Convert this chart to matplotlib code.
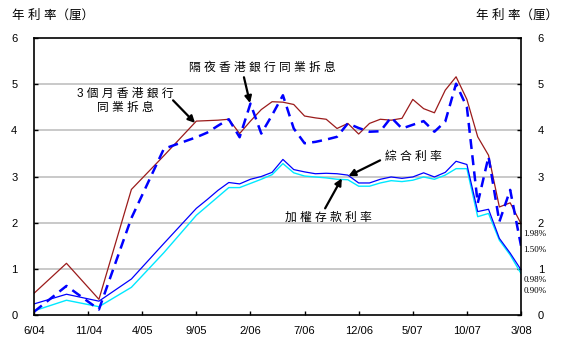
import matplotlib
matplotlib.use("Agg")
import matplotlib.pyplot as plt

plt.rcParams['font.family'] = ['Liberation Sans', 'Noto Sans CJK TC', 'DejaVu Sans']

# months since 6/04
months = [0, 3, 6, 9, 12, 15, 16, 17, 18, 19, 20, 21, 22, 23, 24, 25, 26, 27, 28, 29,
          30, 31, 32, 33, 34, 35, 36, 37, 38, 39, 40, 41, 42, 43, 44, 45]
tick_months = [0, 5, 10, 15, 20, 25, 30, 35, 40, 45]
tick_labels = ['6/04', '11/04', '4/05', '9/05', '2/06', '7/06', '12/06', '5/07', '10/07', '3/08']

hibor_3m = [0.47, 1.12, 0.34, 2.72, 3.45, 4.20, 4.21, 4.22, 4.24, 3.93, 4.20, 4.45, 4.62, 4.61,
            4.56, 4.31, 4.27, 4.24, 4.04, 4.15, 3.92, 4.15, 4.24, 4.22, 4.26, 4.67, 4.47, 4.38,
            4.87, 5.16, 4.67, 3.86, 3.46, 2.34, 2.43, 1.98]
hibor_on = [0.07, 0.63, 0.12, 2.10, 3.60, 3.85, 3.95, 4.10, 4.24, 3.85, 4.58, 3.93, 4.33, 4.76,
            4.04, 3.72, 3.75, 3.80, 3.86, 4.15, 4.05, 3.97, 3.98, 4.28, 4.04, 4.12, 4.20, 3.97,
            4.19, 5.01, 4.50, 2.42, 3.43, 2.02, 2.71, 1.50]
composite = [0.24, 0.45, 0.30, 0.78, 1.55, 2.31, 2.50, 2.70, 2.87, 2.84, 2.94, 3.00, 3.09, 3.37,
             3.15, 3.10, 3.06, 3.07, 3.06, 3.03, 2.86, 2.86, 2.94, 2.99, 2.96, 2.99, 3.08, 2.99,
             3.09, 3.33, 3.26, 2.24, 2.29, 1.66, 1.34, 0.98]
deposit = [0.09, 0.32, 0.18, 0.60, 1.35, 2.16, 2.36, 2.56, 2.76, 2.76, 2.85, 2.94, 3.04, 3.28,
           3.08, 3.01, 2.99, 2.97, 2.94, 2.93, 2.79, 2.79, 2.86, 2.91, 2.89, 2.92, 2.99, 2.94,
           3.03, 3.17, 3.17, 2.13, 2.20, 1.62, 1.30, 0.90]

end_labels = ['1.98%', '1.50%', '0.98%', '0.90%']
end_label_y = [1.76, 1.40, 0.76, 0.53]


def spaced(s):
    return ' '.join(s)


fig = plt.figure(figsize=(5.63, 3.48), dpi=100)
ax = fig.add_axes([0.0604, 0.0948, 0.865, 0.796])

for y in [1, 2, 3, 4, 5]:
    ax.axhline(y, color='#c0c0c0', lw=1.2, zorder=0)

ax.plot(months, deposit, color='#00e8ff', lw=1.0)
ax.plot(months, composite, color='#0000ff', lw=0.9)
ax.plot(months, hibor_3m, color='#9b1b1b', lw=0.9)
ax.plot(months, hibor_on, color='#0000ff', lw=1.8, dashes=(4, 2.5))

ax.set_xlim(0, 45)
ax.set_ylim(0, 6)
ax.set_xticks(tick_months)
ax.set_xticklabels(tick_labels, fontsize=8)
ax.set_yticks(range(7))
ax.tick_params(axis='both', direction='in', length=3, width=1, labelsize=8,
               left=True, right=True, labelleft=True, labelright=True)
ax.tick_params(axis='x', pad=8)
ax.tick_params(axis='y', pad=12)
for s in ax.spines.values():
    s.set_linewidth(1.2)
    s.set_color('black')

# right-hand 2 and 1 in serif
for t in ax.yaxis.get_major_ticks():
    if t.get_loc() in (1, 2):
        t.label2.set_fontfamily('Liberation Serif')
        t.label2.set_fontsize(9)

for txt, yv in zip(end_labels, end_label_y):
    ax.text(45.2, yv, txt, fontsize=6.5, family='Liberation Serif', va='center', ha='left',
            clip_on=False)

fig.text(0.021, 0.955, '年 利 率（厘）', fontsize=9, va='center', ha='left')
fig.text(0.846, 0.955, '年 利 率（厘）', fontsize=9, va='center', ha='left')

# labels
ax.text(21.07, 5.35, spaced('隔夜香港銀行同業拆息'), fontsize=8.5, ha='center', va='center')
ax.text(8.41, 4.64, spaced('3個月香港銀行') + '\n' + spaced('同業拆息'), fontsize=8.5,
        ha='center', va='center', linespacing=1.25)
ax.text(35.03, 3.42, spaced('綜合利率'), fontsize=8.5, ha='center', va='center')
ax.text(27.2, 2.10, spaced('加權存款利率'), fontsize=8.5, ha='center', va='center')

# arrows
arrow = dict(arrowstyle='-|>', color='black', lw=1.6, mutation_scale=10,
             shrinkA=0, shrinkB=0)
ax.annotate('', xy=(19.96, 4.59), xytext=(19.4, 5.15), arrowprops=arrow)
ax.annotate('', xy=(14.88, 4.16), xytext=(12.85, 4.65), arrowprops=arrow)
ax.annotate('', xy=(29.05, 3.01), xytext=(31.98, 3.35), arrowprops=arrow)
ax.annotate('', xy=(28.44, 2.96), xytext=(26.9, 2.31), arrowprops=arrow)

fig.savefig('out.png', dpi=100)
